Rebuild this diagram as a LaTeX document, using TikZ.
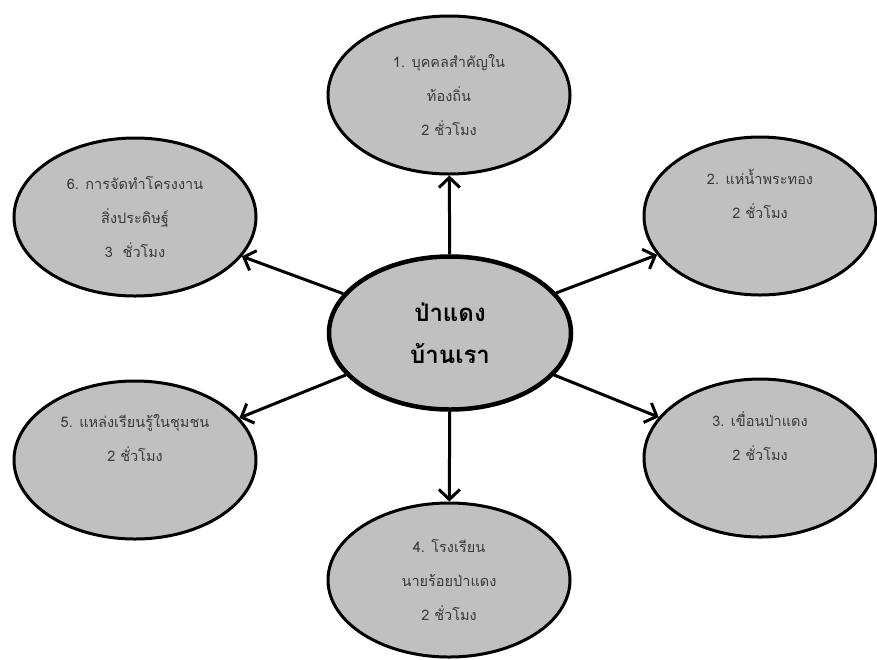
\documentclass[tikz,border=0pt]{standalone}
\usepackage{fontspec}
\newfontfamily\thaifont[Script=Thai]{Loma}
\usetikzlibrary{shapes.geometric,arrows.meta}
\definecolor{bubblefill}{HTML}{C0C0C0}
\definecolor{bubbletext}{HTML}{3A3A3A}
\tikzset{
  topic/.style={ellipse, draw, line width=3pt, fill=bubblefill, inner sep=0pt,
    minimum width=242pt, minimum height=158pt, align=center, text=bubbletext,
    font=\thaifont\fontsize{14.5}{34}\selectfont},
  hub/.style={topic, line width=4.5pt, text=black,
    font=\thaifont\bfseries\fontsize{24}{42}\selectfont},
  link/.style={line width=3pt, -{Straight Barb[length=10pt,width=21pt]}}
}
\begin{document}
\begin{tikzpicture}[x=1pt,y=-1pt]
\useasboundingbox (0,0) rectangle (877,659);
\node[hub, minimum width=242pt, minimum height=153pt] (hub) at (450,333) {ป่าแดง\\บ้านเรา};
\node[topic] (t1) at (449,95) {1. บุคคลสำคัญใน\\ท้องถิ่น\\2 ชั่วโมง};
\node[topic, minimum width=232pt] (t2) at (760,216) {2. แห่น้ำพระทอง\\2 ชั่วโมง\\\strut};
\node[topic, minimum width=232pt] (t3) at (760,458) {3. เขื่อนป่าแดง\\2 ชั่วโมง\\\strut};
\node[topic, minimum height=154pt] (t4) at (449,580) {4. โรงเรียน\\นายร้อยป่าแดง\\2 ชั่วโมง};
\node[topic] (t5) at (135,460) {5. แหล่งเรียนรู้ในชุมชน\\2 ชั่วโมง\\\strut};
\node[topic] (t6) at (135,217) {6. การจัดทำโครงงาน\\สิ่งประดิษฐ์\\3\ \ ชั่วโมง};
\foreach \t in {t1,t2,t3,t4,t5,t6}
  \draw[link] (hub) -- (\t);
\end{tikzpicture}
\end{document}
